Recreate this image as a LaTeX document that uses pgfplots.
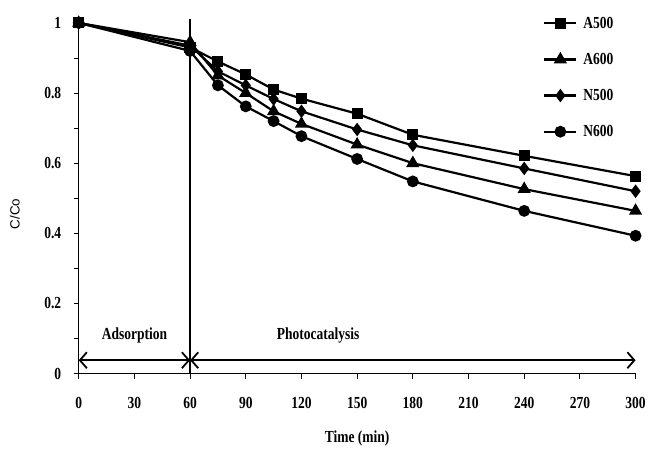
\documentclass[border=0pt]{standalone}
\usepackage{pgfplots}
\pgfplotsset{compat=1.18}
\usetikzlibrary{arrows.meta}
\usepackage{fontspec}
\setmainfont[FakeStretch=0.8]{Liberation Serif}
\newfontfamily\sansf{Liberation Sans}
\newcommand\tf{\fontsize{17}{19}\selectfont\bfseries}
\begin{document}
\begin{tikzpicture}
\begin{axis}[
  scale only axis,
  width=559bp, height=352bp,
  xmin=0, xmax=300, ymin=0, ymax=1,
  axis lines*=left,
  clip=false,
  axis line style={black, line width=0.8bp},
  tick align=outside,
  major tick length=5bp,
  tick style={black, line width=0.8bp},
  xtick={0,30,...,300},
  ytick={0,0.1,...,1.0},
  yticklabels={0,,0.2,,0.4,,0.6,,0.8,,1},
  /pgf/number format/assume math mode=true,
  ticklabel style={font=\tf},
  xticklabel style={yshift=-15bp},
  yticklabel style={xshift=-9bp},
  xlabel={Time (min)},
  ylabel={C/Co},
  xlabel style={at={(axis description cs:0.5,-0.185)}, anchor=center, font=\tf},
  ylabel style={at={(axis description cs:-0.1145,0.455)}, anchor=center, font=\fontsize{13.5}{15}\selectfont\sansf},
  every axis plot/.append style={black, line width=2.2bp, mark options={solid}},
  legend style={draw=none, fill=none, at={(rel axis cs:0.834,1.023)}, anchor=north west,
    font=\tf, row sep=19.5bp, inner sep=0bp,
    cells={anchor=west}},
  legend image code/.code={\draw[mark repeat=2,mark phase=2,#1] plot coordinates {(0bp,0bp) (16bp,0bp) (32bp,0bp)};},
]
\addplot[mark=square*, mark size=4.5bp] coordinates {
 (0,1) (60,0.93) (75,0.89) (90,0.853) (105,0.81) (120,0.784) (150,0.741) (180,0.681) (240,0.621) (300,0.563)};
\addlegendentry{\hspace{4bp}A500}
\addplot[mark=triangle*, mark size=5.5bp] coordinates {
 (0,1) (60,0.945) (75,0.85) (90,0.80) (105,0.748) (120,0.712) (150,0.653) (180,0.600) (240,0.526) (300,0.464)};
\addlegendentry{\hspace{4bp}A600}
\addplot[mark=diamond*, mark size=5bp] coordinates {
 (0,1) (60,0.935) (75,0.862) (90,0.822) (105,0.783) (120,0.748) (150,0.696) (180,0.651) (240,0.585) (300,0.52)};
\addlegendentry{\hspace{4bp}N500}
\addplot[mark=*, mark size=4.8bp] coordinates {
 (0,1) (60,0.92) (75,0.822) (90,0.762) (105,0.72) (120,0.677) (150,0.612) (180,0.548) (240,0.464) (300,0.393)};
\addlegendentry{\hspace{4bp}N600}
\draw[black, line width=1.2bp] (axis cs:60,0) -- (axis cs:60,1.012);
\draw[black, line width=1.8bp, {Straight Barb[length=7bp,width=16bp]}-{Straight Barb[length=7bp,width=16bp]}] (axis cs:0,0.038) -- (axis cs:60,0.038);
\draw[black, line width=1.8bp, {Straight Barb[length=7bp,width=16bp]}-{Straight Barb[length=7bp,width=16bp]}] (axis cs:60,0.038) -- (axis cs:300,0.038);
\node[font=\tf] at (axis cs:30,0.11) {Adsorption};
\node[font=\tf] at (axis cs:129,0.11) {Photocatalysis};
\path[draw=none] ([xshift=-79bp,yshift=-80bp]rel axis cs:0,0) rectangle ([xshift=11bp,yshift=23bp]rel axis cs:1,1);
\end{axis}
\end{tikzpicture}
\end{document}
